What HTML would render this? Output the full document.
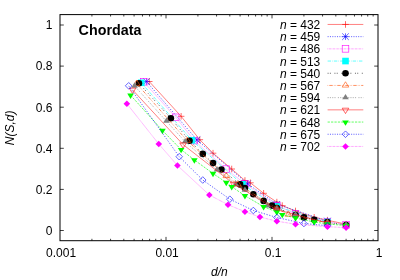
<!DOCTYPE html><html><head><meta charset="utf-8"><title>plot</title><style>html,body{margin:0;padding:0;background:#fff}svg{display:block;will-change:transform}text{font-family:"Liberation Sans",sans-serif;font-size:12px;fill:#000}</style></head><body>
<svg width="400" height="280" viewBox="0 0 400 280">
<rect width="400" height="280" fill="#fff"/>
<path d="M60 25h3.8M378 25h-3.8M60 66.1h3.8M378 66.1h-3.8M60 107.2h3.8M378 107.2h-3.8M60 148.3h3.8M378 148.3h-3.8M60 189.4h3.8M378 189.4h-3.8M60 230.5h3.8M378 230.5h-3.8M91.91 240.7v-1.9M91.91 14.6v1.9M110.57 240.7v-1.9M110.57 14.6v1.9M123.82 240.7v-1.9M123.82 14.6v1.9M134.09 240.7v-1.9M134.09 14.6v1.9M142.48 240.7v-1.9M142.48 14.6v1.9M149.58 240.7v-1.9M149.58 14.6v1.9M155.73 240.7v-1.9M155.73 14.6v1.9M161.15 240.7v-1.9M161.15 14.6v1.9M166 240.7v-3.8M166 14.6v3.8M197.91 240.7v-1.9M197.91 14.6v1.9M216.57 240.7v-1.9M216.57 14.6v1.9M229.82 240.7v-1.9M229.82 14.6v1.9M240.09 240.7v-1.9M240.09 14.6v1.9M248.48 240.7v-1.9M248.48 14.6v1.9M255.58 240.7v-1.9M255.58 14.6v1.9M261.73 240.7v-1.9M261.73 14.6v1.9M267.15 240.7v-1.9M267.15 14.6v1.9M272 240.7v-3.8M272 14.6v3.8M303.91 240.7v-1.9M303.91 14.6v1.9M322.57 240.7v-1.9M322.57 14.6v1.9M335.82 240.7v-1.9M335.82 14.6v1.9M346.09 240.7v-1.9M346.09 14.6v1.9M354.48 240.7v-1.9M354.48 14.6v1.9M361.58 240.7v-1.9M361.58 14.6v1.9M367.73 240.7v-1.9M367.73 14.6v1.9M373.15 240.7v-1.9M373.15 14.6v1.9" stroke="#000" stroke-width="0.75" fill="none"/>
<rect x="60" y="14.6" width="318" height="226.1" fill="none" stroke="#000" stroke-width="1.0"/>
<text x="52.5" y="29.3" text-anchor="end">1</text>
<text x="52.5" y="70.4" text-anchor="end">0.8</text>
<text x="52.5" y="111.5" text-anchor="end">0.6</text>
<text x="52.5" y="152.6" text-anchor="end">0.4</text>
<text x="52.5" y="193.7" text-anchor="end">0.2</text>
<text x="52.5" y="234.8" text-anchor="end">0</text>
<text x="61.1" y="256.6" text-anchor="middle">0.001</text>
<text x="167.1" y="256.6" text-anchor="middle">0.01</text>
<text x="273.1" y="256.6" text-anchor="middle">0.1</text>
<text x="379.1" y="256.6" text-anchor="middle">1</text>
<text x="219.3" y="275.5" text-anchor="middle" font-style="italic">d/n</text>
<text transform="translate(14 127.8) rotate(-90)" text-anchor="middle" font-style="italic">N(S,d)</text>
<text x="78.6" y="35" font-weight="bold" style="font-size:14.3px">Chordata</text>
<text x="320.3" y="28.95" text-anchor="end"><tspan font-style="italic">n</tspan> = 432</text>
<path d="M327.6 24.45H363.3" stroke="#ff0000" stroke-width="0.5" fill="none"/>
<path d="M342.2 24.45H348.8M345.5 21.15V27.75" stroke="#ff0000" stroke-width="0.6" fill="none"/>
<path d="M149.21 81.5L181.12 116.3L199.79 139.7L213.03 153.2L231.7 169L244.94 180.5L250.36 182.8L263.61 193.3L276.85 202.1L282.27 205.6L295.52 211L314.18 217.3L327.43 220.2L346.09 224.2" stroke="#ff0000" stroke-width="0.5" fill="none"/>
<path d="M145.91 81.5H152.51M149.21 78.2V84.8" stroke="#ff0000" stroke-width="0.6" fill="none"/>
<path d="M177.82 116.3H184.42M181.12 113V119.6" stroke="#ff0000" stroke-width="0.6" fill="none"/>
<path d="M196.49 139.7H203.09M199.79 136.4V143" stroke="#ff0000" stroke-width="0.6" fill="none"/>
<path d="M209.73 153.2H216.33M213.03 149.9V156.5" stroke="#ff0000" stroke-width="0.6" fill="none"/>
<path d="M228.4 169H235M231.7 165.7V172.3" stroke="#ff0000" stroke-width="0.6" fill="none"/>
<path d="M241.64 180.5H248.24M244.94 177.2V183.8" stroke="#ff0000" stroke-width="0.6" fill="none"/>
<path d="M247.06 182.8H253.66M250.36 179.5V186.1" stroke="#ff0000" stroke-width="0.6" fill="none"/>
<path d="M260.31 193.3H266.91M263.61 190V196.6" stroke="#ff0000" stroke-width="0.6" fill="none"/>
<path d="M273.55 202.1H280.15M276.85 198.8V205.4" stroke="#ff0000" stroke-width="0.6" fill="none"/>
<path d="M278.97 205.6H285.57M282.27 202.3V208.9" stroke="#ff0000" stroke-width="0.6" fill="none"/>
<path d="M292.22 211H298.82M295.52 207.7V214.3" stroke="#ff0000" stroke-width="0.6" fill="none"/>
<path d="M310.88 217.3H317.48M314.18 214V220.6" stroke="#ff0000" stroke-width="0.6" fill="none"/>
<path d="M324.13 220.2H330.73M327.43 216.9V223.5" stroke="#ff0000" stroke-width="0.6" fill="none"/>
<path d="M342.79 224.2H349.39M346.09 220.9V227.5" stroke="#ff0000" stroke-width="0.6" fill="none"/>
<text x="320.3" y="41.15" text-anchor="end"><tspan font-style="italic">n</tspan> = 459</text>
<path d="M327.6 36.65H363.3" stroke="#0000ff" stroke-width="0.62" fill="none" stroke-dasharray="1.05 1.3"/>
<path d="M342.2 36.65H348.8M345.5 33.35V39.95M342.2 33.35L348.8 39.95M342.2 39.95L348.8 33.35" stroke="#0000ff" stroke-width="0.6" fill="none"/>
<path d="M146.42 81.5L197 139.9L247.57 183.8L276.85 204.3L327.43 221" stroke="#0000ff" stroke-width="0.62" fill="none" stroke-dasharray="1.25 1.55"/>
<path d="M143.12 81.5H149.72M146.42 78.2V84.8M143.12 78.2L149.72 84.8M143.12 84.8L149.72 78.2" stroke="#0000ff" stroke-width="0.6" fill="none"/>
<path d="M193.7 139.9H200.3M197 136.6V143.2M193.7 136.6L200.3 143.2M193.7 143.2L200.3 136.6" stroke="#0000ff" stroke-width="0.6" fill="none"/>
<path d="M244.27 183.8H250.87M247.57 180.5V187.1M244.27 180.5L250.87 187.1M244.27 187.1L250.87 180.5" stroke="#0000ff" stroke-width="0.6" fill="none"/>
<path d="M273.55 204.3H280.15M276.85 201V207.6M273.55 201L280.15 207.6M273.55 207.6L280.15 201" stroke="#0000ff" stroke-width="0.6" fill="none"/>
<path d="M324.13 221H330.73M327.43 217.7V224.3M324.13 217.7L330.73 224.3M324.13 224.3L330.73 217.7" stroke="#0000ff" stroke-width="0.6" fill="none"/>
<text x="320.3" y="53.35" text-anchor="end"><tspan font-style="italic">n</tspan> = 486</text>
<path d="M327.6 48.85H363.3" stroke="#ff00ff" stroke-width="0.62" fill="none" stroke-dasharray="0.55 0.82"/>
<rect x="342.2" y="45.55" width="6.6" height="6.6" stroke="#ff00ff" stroke-width="0.6" fill="none"/>
<path d="M143.79 81.8L175.7 117.3L194.37 140.6L226.28 169.1L244.94 183.7L276.85 205.8L295.52 213.6L327.43 221.7L346.09 224.8" stroke="#ff00ff" stroke-width="0.62" fill="none" stroke-dasharray="0.55 0.82"/>
<rect x="140.49" y="78.5" width="6.6" height="6.6" stroke="#ff00ff" stroke-width="0.6" fill="none"/>
<rect x="172.4" y="114" width="6.6" height="6.6" stroke="#ff00ff" stroke-width="0.6" fill="none"/>
<rect x="191.07" y="137.3" width="6.6" height="6.6" stroke="#ff00ff" stroke-width="0.6" fill="none"/>
<rect x="222.98" y="165.8" width="6.6" height="6.6" stroke="#ff00ff" stroke-width="0.6" fill="none"/>
<rect x="241.64" y="180.4" width="6.6" height="6.6" stroke="#ff00ff" stroke-width="0.6" fill="none"/>
<rect x="273.55" y="202.5" width="6.6" height="6.6" stroke="#ff00ff" stroke-width="0.6" fill="none"/>
<rect x="292.22" y="210.3" width="6.6" height="6.6" stroke="#ff00ff" stroke-width="0.6" fill="none"/>
<rect x="324.13" y="218.4" width="6.6" height="6.6" stroke="#ff00ff" stroke-width="0.6" fill="none"/>
<rect x="342.79" y="221.5" width="6.6" height="6.6" stroke="#ff00ff" stroke-width="0.6" fill="none"/>
<text x="320.3" y="65.55" text-anchor="end"><tspan font-style="italic">n</tspan> = 513</text>
<path d="M327.6 61.05H363.3" stroke="#00ffff" stroke-width="0.62" fill="none" stroke-dasharray="3.42 1.14 0.57 1.14"/>
<rect x="342.2" y="57.75" width="6.6" height="6.6" fill="#00ffff" stroke="none"/>
<path d="M141.3 82.8L191.88 140.3L242.45 184.3L276.85 206.5L327.43 222" stroke="#00ffff" stroke-width="0.62" fill="none" stroke-dasharray="3.42 1.14 0.57 1.14"/>
<rect x="138" y="79.5" width="6.6" height="6.6" fill="#00ffff" stroke="none"/>
<rect x="188.58" y="137" width="6.6" height="6.6" fill="#00ffff" stroke="none"/>
<rect x="239.15" y="181" width="6.6" height="6.6" fill="#00ffff" stroke="none"/>
<rect x="273.55" y="203.2" width="6.6" height="6.6" fill="#00ffff" stroke="none"/>
<rect x="324.13" y="218.7" width="6.6" height="6.6" fill="#00ffff" stroke="none"/>
<text x="320.3" y="77.75" text-anchor="end"><tspan font-style="italic">n</tspan> = 540</text>
<path d="M327.6 73.25H363.3" stroke="#000000" stroke-width="0.62" fill="none" stroke-dasharray="0.99 1.29 0.99 3.57"/>
<circle cx="345.5" cy="73.25" r="3.3" fill="#000000" stroke="none"/>
<path d="M138.94 83.3L170.85 118.2L189.52 140.7L202.76 153.9L213.03 163.1L221.43 169.5L240.09 184.4L244.94 188.1L253.33 194.3L263.61 200.9L272 205.6L276.85 208L295.52 215L303.91 217.4L314.18 219.8L327.43 222.1L346.09 225" stroke="#000000" stroke-width="0.62" fill="none" stroke-dasharray="0.99 1.29 0.99 3.57"/>
<circle cx="138.94" cy="83.3" r="3.3" fill="#000000" stroke="none"/>
<circle cx="170.85" cy="118.2" r="3.3" fill="#000000" stroke="none"/>
<circle cx="189.52" cy="140.7" r="3.3" fill="#000000" stroke="none"/>
<circle cx="202.76" cy="153.9" r="3.3" fill="#000000" stroke="none"/>
<circle cx="213.03" cy="163.1" r="3.3" fill="#000000" stroke="none"/>
<circle cx="221.43" cy="169.5" r="3.3" fill="#000000" stroke="none"/>
<circle cx="240.09" cy="184.4" r="3.3" fill="#000000" stroke="none"/>
<circle cx="244.94" cy="188.1" r="3.3" fill="#000000" stroke="none"/>
<circle cx="253.33" cy="194.3" r="3.3" fill="#000000" stroke="none"/>
<circle cx="263.61" cy="200.9" r="3.3" fill="#000000" stroke="none"/>
<circle cx="272" cy="205.6" r="3.3" fill="#000000" stroke="none"/>
<circle cx="276.85" cy="208" r="3.3" fill="#000000" stroke="none"/>
<circle cx="295.52" cy="215" r="3.3" fill="#000000" stroke="none"/>
<circle cx="303.91" cy="217.4" r="3.3" fill="#000000" stroke="none"/>
<circle cx="314.18" cy="219.8" r="3.3" fill="#000000" stroke="none"/>
<circle cx="327.43" cy="222.1" r="3.3" fill="#000000" stroke="none"/>
<circle cx="346.09" cy="225" r="3.3" fill="#000000" stroke="none"/>
<text x="320.3" y="89.95" text-anchor="end"><tspan font-style="italic">n</tspan> = 567</text>
<path d="M327.6 85.45H363.3" stroke="#ff4d00" stroke-width="0.62" fill="none" stroke-dasharray="0.57 1.14 3.42 1.14 0.57 1.14"/>
<path d="M345.5 81.75L342.2 87.1H348.8Z" stroke="#ff4d00" stroke-width="0.6" fill="none"/>
<path d="M136.7 83.7L187.27 140.8L226.28 176L237.84 184.3L276.85 208.3L288.42 214.6L327.43 222.8" stroke="#ff4d00" stroke-width="0.62" fill="none" stroke-dasharray="0.57 1.14 3.42 1.14 0.57 1.14"/>
<path d="M136.7 80L133.4 85.35H140Z" stroke="#ff4d00" stroke-width="0.6" fill="none"/>
<path d="M187.27 137.1L183.97 142.45H190.57Z" stroke="#ff4d00" stroke-width="0.6" fill="none"/>
<path d="M226.28 172.3L222.98 177.65H229.58Z" stroke="#ff4d00" stroke-width="0.6" fill="none"/>
<path d="M237.84 180.6L234.54 185.95H241.14Z" stroke="#ff4d00" stroke-width="0.6" fill="none"/>
<path d="M276.85 204.6L273.55 209.95H280.15Z" stroke="#ff4d00" stroke-width="0.6" fill="none"/>
<path d="M288.42 210.9L285.12 216.25H291.72Z" stroke="#ff4d00" stroke-width="0.6" fill="none"/>
<path d="M327.43 219.1L324.13 224.45H330.73Z" stroke="#ff4d00" stroke-width="0.6" fill="none"/>
<text x="320.3" y="102.15" text-anchor="end"><tspan font-style="italic">n</tspan> = 594</text>
<path d="M327.6 97.65H363.3" stroke="#808080" stroke-width="0.62" fill="none" stroke-dasharray="1.14 1.14 1.14 1.14 1.14 1.14 1.14 2.28"/>
<path d="M345.5 93.95L342.2 99.3H348.8Z" fill="#808080" stroke="none"/>
<path d="M134.55 86L166.46 121.2L185.13 141.7L217.04 169.8L235.7 184.5L244.94 190.1L267.61 205.8L276.85 208.9L295.52 214.6L327.43 222.8L346.09 224.9" stroke="#808080" stroke-width="0.62" fill="none" stroke-dasharray="1.14 1.14 1.14 1.14 1.14 1.14 1.14 2.28"/>
<path d="M134.55 82.3L131.25 87.65H137.85Z" fill="#808080" stroke="none"/>
<path d="M166.46 117.5L163.16 122.85H169.76Z" fill="#808080" stroke="none"/>
<path d="M185.13 138L181.83 143.35H188.43Z" fill="#808080" stroke="none"/>
<path d="M217.04 166.1L213.74 171.45H220.34Z" fill="#808080" stroke="none"/>
<path d="M235.7 180.8L232.4 186.15H239Z" fill="#808080" stroke="none"/>
<path d="M244.94 186.4L241.64 191.75H248.24Z" fill="#808080" stroke="none"/>
<path d="M267.61 202.1L264.31 207.45H270.91Z" fill="#808080" stroke="none"/>
<path d="M276.85 205.2L273.55 210.55H280.15Z" fill="#808080" stroke="none"/>
<path d="M295.52 210.9L292.22 216.25H298.82Z" fill="#808080" stroke="none"/>
<path d="M327.43 219.1L324.13 224.45H330.73Z" fill="#808080" stroke="none"/>
<path d="M346.09 221.2L342.79 226.55H349.39Z" fill="#808080" stroke="none"/>
<text x="320.3" y="114.35" text-anchor="end"><tspan font-style="italic">n</tspan> = 621</text>
<path d="M327.6 109.85H363.3" stroke="#ff0000" stroke-width="0.5" fill="none"/>
<path d="M345.5 113.55L342.2 108.2H348.8Z" stroke="#ff0000" stroke-width="0.6" fill="none"/>
<path d="M132.51 89.8L183.08 144.6L233.66 183.9L276.85 209.8L327.43 223" stroke="#ff0000" stroke-width="0.5" fill="none"/>
<path d="M132.51 93.5L129.21 88.15H135.81Z" stroke="#ff0000" stroke-width="0.6" fill="none"/>
<path d="M183.08 148.3L179.78 142.95H186.38Z" stroke="#ff0000" stroke-width="0.6" fill="none"/>
<path d="M233.66 187.6L230.36 182.25H236.96Z" stroke="#ff0000" stroke-width="0.6" fill="none"/>
<path d="M276.85 213.5L273.55 208.15H280.15Z" stroke="#ff0000" stroke-width="0.6" fill="none"/>
<path d="M327.43 226.7L324.13 221.35H330.73Z" stroke="#ff0000" stroke-width="0.6" fill="none"/>
<text x="320.3" y="126.55" text-anchor="end"><tspan font-style="italic">n</tspan> = 648</text>
<path d="M327.6 122.05H363.3" stroke="#00ff00" stroke-width="0.62" fill="none" stroke-dasharray="2.28 1.14"/>
<path d="M345.5 125.75L342.2 120.4H348.8Z" fill="#00ff00" stroke="none"/>
<path d="M130.55 95.2L162.46 130.5L181.12 149.6L194.37 160L213.03 173.5L226.28 182.5L231.7 186.7L244.94 195.7L263.61 206.7L276.85 212.1L282.27 214.6L295.52 218L314.18 222L327.43 224L346.09 225.5" stroke="#00ff00" stroke-width="0.62" fill="none" stroke-dasharray="2.28 1.14"/>
<path d="M130.55 98.9L127.25 93.55H133.85Z" fill="#00ff00" stroke="none"/>
<path d="M162.46 134.2L159.16 128.85H165.76Z" fill="#00ff00" stroke="none"/>
<path d="M181.12 153.3L177.82 147.95H184.42Z" fill="#00ff00" stroke="none"/>
<path d="M194.37 163.7L191.07 158.35H197.67Z" fill="#00ff00" stroke="none"/>
<path d="M213.03 177.2L209.73 171.85H216.33Z" fill="#00ff00" stroke="none"/>
<path d="M226.28 186.2L222.98 180.85H229.58Z" fill="#00ff00" stroke="none"/>
<path d="M231.7 190.4L228.4 185.05H235Z" fill="#00ff00" stroke="none"/>
<path d="M244.94 199.4L241.64 194.05H248.24Z" fill="#00ff00" stroke="none"/>
<path d="M263.61 210.4L260.31 205.05H266.91Z" fill="#00ff00" stroke="none"/>
<path d="M276.85 215.8L273.55 210.45H280.15Z" fill="#00ff00" stroke="none"/>
<path d="M282.27 218.3L278.97 212.95H285.57Z" fill="#00ff00" stroke="none"/>
<path d="M295.52 221.7L292.22 216.35H298.82Z" fill="#00ff00" stroke="none"/>
<path d="M314.18 225.7L310.88 220.35H317.48Z" fill="#00ff00" stroke="none"/>
<path d="M327.43 227.7L324.13 222.35H330.73Z" fill="#00ff00" stroke="none"/>
<path d="M346.09 229.2L342.79 223.85H349.39Z" fill="#00ff00" stroke="none"/>
<text x="320.3" y="138.75" text-anchor="end"><tspan font-style="italic">n</tspan> = 675</text>
<path d="M327.6 134.25H363.3" stroke="#0000ff" stroke-width="0.62" fill="none" stroke-dasharray="1.05 1.3"/>
<path d="M345.5 130.95L342.2 134.25L345.5 137.55L348.8 134.25Z" stroke="#0000ff" stroke-width="0.6" fill="none"/>
<path d="M128.67 85.8L179.24 156.7L202.76 180L229.82 199.2L253.33 210.5L276.85 217.5L303.91 223.5L327.43 225.7" stroke="#0000ff" stroke-width="0.62" fill="none" stroke-dasharray="1.25 1.55"/>
<path d="M128.67 82.5L125.37 85.8L128.67 89.1L131.97 85.8Z" stroke="#0000ff" stroke-width="0.6" fill="none"/>
<path d="M179.24 153.4L175.94 156.7L179.24 160L182.54 156.7Z" stroke="#0000ff" stroke-width="0.6" fill="none"/>
<path d="M202.76 176.7L199.46 180L202.76 183.3L206.06 180Z" stroke="#0000ff" stroke-width="0.6" fill="none"/>
<path d="M229.82 195.9L226.52 199.2L229.82 202.5L233.12 199.2Z" stroke="#0000ff" stroke-width="0.6" fill="none"/>
<path d="M253.33 207.2L250.03 210.5L253.33 213.8L256.63 210.5Z" stroke="#0000ff" stroke-width="0.6" fill="none"/>
<path d="M276.85 214.2L273.55 217.5L276.85 220.8L280.15 217.5Z" stroke="#0000ff" stroke-width="0.6" fill="none"/>
<path d="M303.91 220.2L300.61 223.5L303.91 226.8L307.21 223.5Z" stroke="#0000ff" stroke-width="0.6" fill="none"/>
<path d="M327.43 222.4L324.13 225.7L327.43 229L330.73 225.7Z" stroke="#0000ff" stroke-width="0.6" fill="none"/>
<text x="320.3" y="150.95" text-anchor="end"><tspan font-style="italic">n</tspan> = 702</text>
<path d="M327.6 146.45H363.3" stroke="#ff00ff" stroke-width="0.62" fill="none" stroke-dasharray="0.55 0.82"/>
<path d="M345.5 143.15L342.2 146.45L345.5 149.75L348.8 146.45Z" fill="#ff00ff" stroke="none"/>
<path d="M126.86 103.7L158.77 144L177.44 165.5L209.35 195L228.01 204.7L244.94 211.7L259.92 217L276.85 221.2L295.52 224.2L327.43 226.7L346.09 227.6" stroke="#ff00ff" stroke-width="0.62" fill="none" stroke-dasharray="0.55 0.82"/>
<path d="M126.86 100.4L123.56 103.7L126.86 107L130.16 103.7Z" fill="#ff00ff" stroke="none"/>
<path d="M158.77 140.7L155.47 144L158.77 147.3L162.07 144Z" fill="#ff00ff" stroke="none"/>
<path d="M177.44 162.2L174.14 165.5L177.44 168.8L180.74 165.5Z" fill="#ff00ff" stroke="none"/>
<path d="M209.35 191.7L206.05 195L209.35 198.3L212.65 195Z" fill="#ff00ff" stroke="none"/>
<path d="M228.01 201.4L224.71 204.7L228.01 208L231.31 204.7Z" fill="#ff00ff" stroke="none"/>
<path d="M244.94 208.4L241.64 211.7L244.94 215L248.24 211.7Z" fill="#ff00ff" stroke="none"/>
<path d="M259.92 213.7L256.62 217L259.92 220.3L263.22 217Z" fill="#ff00ff" stroke="none"/>
<path d="M276.85 217.9L273.55 221.2L276.85 224.5L280.15 221.2Z" fill="#ff00ff" stroke="none"/>
<path d="M295.52 220.9L292.22 224.2L295.52 227.5L298.82 224.2Z" fill="#ff00ff" stroke="none"/>
<path d="M327.43 223.4L324.13 226.7L327.43 230L330.73 226.7Z" fill="#ff00ff" stroke="none"/>
<path d="M346.09 224.3L342.79 227.6L346.09 230.9L349.39 227.6Z" fill="#ff00ff" stroke="none"/>
</svg></body></html>
